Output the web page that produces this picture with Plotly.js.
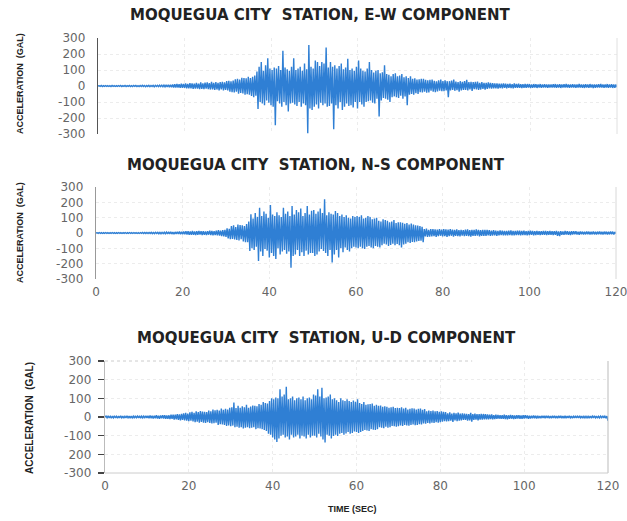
<!DOCTYPE html>
<html>
<head>
<meta charset="utf-8">
<script src="https://cdn.plot.ly/plotly-3.0.1.min.js"></script>
<style>html,body{margin:0;padding:0;background:#fff;}#chart{width:627px;height:521px;}</style>
</head>
<body>
<div id="chart"></div>
<script>
// sampling interval of the hand-read traces (seconds)
const DT = 0.25;

const panelTitles = [
  "MOQUEGUA CITY  STATION, E-W COMPONENT",
  "MOQUEGUA CITY  STATION, N-S COMPONENT",
  "MOQUEGUA CITY  STATION, U-D COMPONENT"
];
const yTitle = "ACCELERATION  (GAL)";
const xTitle = "TIME (SEC)";

const yTickVals = [300, 200, 100, 0, -100, -200, -300];
const yTickText = ["300", "200", "100", "0", "-100", "-200", "-300"];
const yTickText3 = ["300", "200", "100", "0", "-100", "200", "-300"];
const xTickVals = [0, 20, 40, 60, 80, 100, 120];
const xTickText = ["0", "20", "40", "60", "80", "100", "120"];

// E-W component, acceleration (gal), every 0.25 s from 0 to 120 s (one row = 5 s)
const ewAccel = [
  0, 2, -2, 3, -3, 2, -2, 3, -2, 2, -3, 2, -3, 3, -2, 2, -3, 2, -2, 3,
  -2, 3, -3, 2, -2, 3, -3, 2, -2, 4, -3, 2, -3, 3, -2, 3, -3, 2, -3, 3,
  -3, 4, -3, 3, -4, 3, -3, 4, -4, 3, -3, 4, -5, 4, -3, 4, -4, 5, -4, 5,
  -5, 6, -5, 7, -6, 8, -7, 8, -8, 10, -9, 11, -10, 12, -9, 11, -12, 14, -11, 13,
  -12, 16, -14, 13, -15, 18, -14, 16, -18, 15, -16, 20, -17, 15, -19, 22, -18, 16, -20, 21,
  -17, 22, -20, 18, -22, 26, -21, 19, -24, 25, -22, 20, -27, 24, -21, 26, -28, 23, -25, 30,
  -28, 32, -35, 30, -38, 34, -40, 42, -36, 45, -48, 40, -44, 52, -46, 50, -55, 48, -52, 58,
  -55, 50, -62, 58, -70, 65, -60, 90, -144, 120, -100, 150, -110, 95, -120, 130, -90, 173, -105, 110,
  -120, 100, -130, 115, -245, 110, -95, 125, -110, 100, -130, 220, -100, 115, -120, 105, -160, 95, -110, 120,
  -105, 173, -115, 100, -125, 110, -100, 120, -130, 95, -110, 140, -120, 105, -296, 256, -140, 120, -150, 110,
  -130, 160, -115, 150, -140, 125, -105, 150, -120, 140, -110, 240, -130, 115, -125, 150, -110, 120, -270, 130,
  -120, 110, -140, 125, -100, 140, -150, 105, -130, 115, -110, 170, -125, 100, -120, 110, -135, 95, -100, 120,
  -140, 160, -100, 110, -115, 95, -130, 90, -100, 110, -95, 150, -90, 100, -105, 85, -110, 95, -80, 100,
  -190, 80, -90, 85, -75, 130, -80, 75, -85, 70, -100, 60, -70, 75, -65, 80, -70, 60, -75, 65,
  -60, 75, -80, 55, -65, 60, -120, 50, -55, 60, -50, 45, -55, 48, -45, 40, -50, 42, -38, 45,
  -40, 45, -35, 38, -42, 35, -40, 38, -30, 40, -35, 32, -38, 30, -34, 36, -30, 40, -32, 30,
  -32, 35, -28, 30, -70, 30, -28, 34, -25, 40, -30, 28, -26, 25, -35, 30, -28, 26, -25, 30,
  -25, 38, -28, 24, -22, 26, -30, 24, -20, 26, -22, 28, -24, 20, -22, 24, -18, 20, -22, 19,
  -18, 22, -15, 20, -16, 18, -14, 17, -15, 16, -16, 14, -13, 15, -14, 16, -12, 14, -15, 13,
  -12, 15, -13, 12, -14, 16, -12, 13, -11, 14, -12, 12, -13, 11, -12, 13, -11, 12, -10, 12,
  -12, 10, -11, 12, -10, 11, -12, 9, -10, 12, -11, 10, -9, 11, -10, 9, -11, 10, -9, 10,
  -10, 11, -9, 12, -11, 9, -10, 11, -12, 10, -9, 11, -10, 12, -9, 10, -11, 9, -10, 11,
  -10, 9, -11, 10, -9, 12, -10, 9, -11, 10, -12, 11, -9, 10, -11, 12, -10, 9, -12, 10,
  -11, 10, -9, 11, -10, 12, -9, 10, -11, 9, -10, 12, -11, 10, -9, 11, -12, 10, -11, 9,
  -8
];

// N-S component
const nsAccel = [
  0, 2, -2, 3, -2, 2, -3, 2, -2, 3, -2, 2, -3, 2, -2, 3, -2, 2, -3, 2,
  -2, 3, -2, 2, -3, 2, -2, 3, -3, 2, -2, 3, -2, 2, -3, 3, -2, 2, -3, 2,
  -3, 3, -2, 4, -3, 3, -4, 3, -3, 4, -3, 4, -4, 3, -4, 5, -3, 4, -5, 4,
  -5, 4, -4, 5, -5, 6, -6, 7, -6, 8, -7, 6, -8, 7, -6, 8, -7, 9, -8, 8,
  -8, 10, -9, 12, -10, 11, -12, 10, -11, 13, -12, 10, -14, 12, -11, 13, -10, 12, -13, 11,
  -12, 10, -14, 12, -11, 15, -13, 14, -16, 12, -14, 16, -15, 18, -17, 15, -20, 18, -22, 20,
  -25, 30, -35, 28, -40, 45, -38, 50, -42, 38, -45, 55, -48, 52, -40, 50, -55, 45, -60, 58,
  -60, 75, -117, 122, -100, 95, -110, 130, -90, 105, -183, 165, -120, 110, -150, 140, -105, 125, -115, 100,
  -160, 183, -130, 120, -150, 110, -170, 135, -100, 115, -140, 105, -120, 165, -110, 125, -135, 140, -120, 110,
  -226, 176, -150, 120, -140, 150, -110, 135, -150, 160, -125, 110, -150, 130, -115, 176, -140, 120, -130, 145,
  -130, 150, -150, 125, -140, 140, -120, 160, -105, 130, -117, 220, -130, 115, -150, 135, -110, 125, -193, 120,
  -140, 143, -110, 130, -160, 110, -100, 120, -125, 105, -95, 115, -110, 100, -120, 95, -100, 110, -90, 105,
  -95, 110, -100, 105, -90, 115, -100, 95, -105, 100, -90, 110, -85, 105, -95, 90, -100, 95, -85, 100,
  -90, 80, -95, 75, -80, 90, -70, 85, -75, 80, -85, 70, -78, 75, -70, 85, -80, 65, -72, 70,
  -80, 70, -95, 67, -75, 60, -70, 65, -60, 55, -65, 62, -58, 55, -60, 50, -55, 48, -52, 45,
  -50, 40, -60, 25, -22, 28, -25, 20, -24, 26, -22, 25, -20, 24, -26, 22, -20, 25, -18, 22,
  -22, 25, -20, 24, -26, 22, -20, 25, -18, 22, -24, 20, -18, 23, -20, 18, -22, 20, -17, 19,
  -20, 22, -18, 24, -21, 19, -23, 20, -18, 21, -19, 23, -17, 20, -22, 18, -19, 21, -18, 20,
  -18, 20, -16, 18, -19, 15, -17, 18, -15, 16, -18, 14, -16, 17, -14, 15, -16, 13, -15, 14,
  -16, 15, -14, 17, -15, 14, -16, 13, -14, 15, -13, 16, -15, 14, -13, 15, -14, 12, -15, 14,
  -13, 15, -12, 14, -15, 12, -13, 14, -12, 11, -14, 12, -11, 13, -12, 14, -13, 12, -11, 13,
  -12, 11, -14, 12, -11, 13, -18, 10, -20, 12, -11, 10, -12, 13, -10, 12, -11, 10, -13, 11,
  -10, 12, -9, 11, -10, 9, -11, 10, -8, 9, -10, 8, -9, 10, -8, 9, -10, 8, -9, 10,
  -9, 8, -10, 9, -8, 10, -9, 8, -10, 9, -8, 9, -10, 8, -9, 10, -8, 9, -10, 7,
  -5
];

// U-D component
const udAccel = [
  0, 5, -4, 6, -5, 4, -6, 5, -4, 6, -5, 4, -6, 5, -5, 6, -4, 5, -6, 4,
  -5, 6, -4, 5, -6, 5, -5, 4, -6, 6, -4, 5, -5, 6, -6, 4, -5, 5, -4, 6,
  -5, 6, -7, 8, -6, 7, -8, 6, -7, 9, -8, 7, -9, 8, -7, 9, -8, 10, -9, 8,
  -10, 9, -11, 12, -10, 12, -14, 13, -12, 15, -16, 14, -18, 17, -16, 20, -18, 22, -20, 18,
  -22, 25, -20, 28, -24, 22, -28, 30, -25, 27, -30, 32, -26, 29, -30, 28, -32, 26, -28, 35,
  -32, 30, -35, 40, -33, 36, -30, 38, -42, 35, -38, 45, -40, 38, -42, 44, -48, 40, -45, 50,
  -50, 52, -46, 77, -55, 48, -52, 60, -57, 50, -55, 58, -62, 52, -58, 65, -55, 50, -60, 56,
  -58, 62, -55, 60, -65, 58, -60, 70, -62, 66, -65, 80, -70, 75, -75, 72, -90, 85, -95, 100,
  -110, 95, -120, 105, -134, 100, -115, 148, -100, 110, -95, 120, -110, 162, -105, 95, -120, 100, -95, 110,
  -110, 90, -105, 100, -95, 105, -115, 95, -100, 110, -105, 90, -115, 100, -95, 105, -110, 95, -100, 120,
  -100, 115, -110, 148, -90, 110, -105, 157, -120, 100, -137, 105, -95, 110, -100, 121, -115, 95, -102, 100,
  -95, 90, -102, 80, -90, 100, -85, 90, -95, 85, -88, 95, -80, 85, -90, 80, -85, 88, -78, 82,
  -80, 95, -85, 75, -80, 70, -75, 80, -70, 65, -72, 68, -75, 70, -65, 72, -68, 60, -70, 65,
  -65, 60, -55, 62, -58, 55, -60, 58, -52, 55, -58, 50, -55, 52, -48, 55, -50, 48, -52, 50,
  -50, 48, -45, 52, -48, 45, -42, 50, -45, 40, -46, 44, -42, 46, -40, 45, -44, 40, -42, 44,
  -38, 45, -40, 38, -35, 42, -36, 30, -32, 35, -34, 32, -30, 34, -32, 30, -28, 32, -30, 28,
  -28, 30, -25, 28, -22, 26, -24, 20, -22, 25, -20, 18, -26, 22, -18, 20, -22, 24, -20, 18,
  -18, 20, -16, 18, -15, 17, -20, 16, -18, 22, -25, 15, -16, 18, -14, 16, -18, 15, -14, 17,
  -14, 16, -12, 15, -13, 14, -12, 13, -11, 14, -12, 10, -11, 12, -10, 11, -9, 10, -10, 9,
  -10, 12, -11, 10, -12, 9, -10, 11, -9, 10, -11, 8, -10, 9, -8, 10, -9, 8, -10, 9,
  -8, 9, -7, 8, -9, 7, -8, 6, -7, 8, -6, 7, -8, 6, -7, 5, -6, 7, -5, 6,
  -6, 7, -5, 6, -7, 5, -6, 6, -5, 7, -6, 5, -7, 6, -5, 6, -6, 5, -7, 6,
  -6, 5, -5, 6, -4, 5, -6, 4, -5, 6, -5, 4, -5, 6, -4, 5, -6, 4, -5, 4,
  -5, 4, -6, 5, -4, 5, -5, 6, -4, 5, -6, 4, -5, 5, -4, 6, -5, 4, -6, 5,
  -20
];

const W = 627, H = 521;
const px = v => v / W;
const py = v => 1 - v / H;

const lineColor = '#2f7fd4';
const tickFont = {family: 'DejaVu Sans', size: 12, color: '#666'};

function trace(y, xa, ya) {
  return {y: y, x0: 0, dx: DT, xaxis: xa, yaxis: ya, type: 'scatter', mode: 'lines',
          line: {color: lineColor, width: 1.4}, hoverinfo: 'skip', showlegend: false};
}

const data = [
  trace(ewAccel, 'x', 'y'),
  trace(nsAccel, 'x2', 'y2'),
  trace(udAccel, 'x3', 'y3')
];

function xaxisDef(dom, anchor, showLabels) {
  return {domain: dom, anchor: anchor, range: [0, 120], tickvals: xTickVals, ticktext: xTickText,
          showticklabels: showLabels, ticks: '', showgrid: true, gridcolor: '#ececec', griddash: 'dot',
          zeroline: false, showline: false, tickfont: tickFont, ticklabelstandoff: 4,
          ticklabeloverflow: 'allow', fixedrange: true};
}
function yaxisDef(dom, anchor, texts, lc) {
  return {domain: dom, anchor: anchor, range: [-300, 300], tickvals: yTickVals, ticktext: texts,
          showgrid: true, gridcolor: '#ececec', griddash: 'dot', zeroline: false,
          showline: true, linecolor: lc, linewidth: 1.3, ticks: '', tickfont: tickFont,
          ticklabelstandoff: 9, fixedrange: true};
}

const titleFont = {family: 'DejaVu Sans', size: 15, color: '#222'};
const axTitleFont = {family: 'Liberation Sans Narrow, Liberation Sans', size: 9, color: '#222'};

const layout = {
  width: W, height: H,
  margin: {l: 0, r: 0, t: 0, b: 0},
  paper_bgcolor: '#fff', plot_bgcolor: '#fff',
  showlegend: false,
  xaxis:  xaxisDef([px(98), px(617)], 'y', false),
  yaxis:  yaxisDef([py(134), py(38)], 'x', yTickText, '#555'),
  xaxis2: xaxisDef([px(96), px(616)], 'y2', true),
  yaxis2: yaxisDef([py(279), py(187)], 'x2', yTickText, '#999'),
  xaxis3: xaxisDef([px(105), px(608)], 'y3', true),
  yaxis3: Object.assign(yaxisDef([py(473), py(361)], 'x3', yTickText3, '#bbb'),
                        {ticks: 'outside', ticklen: 6, tickcolor: '#444', tickwidth: 1.3, ticklabelstandoff: 4}),
  shapes: [
    {type: 'line', xref: 'x domain', yref: 'y domain', x0: 1, x1: 1, y0: 0, y1: 1, line: {color: '#e0e0e0', width: 1}},
    {type: 'line', xref: 'x2 domain', yref: 'y2 domain', x0: 1, x1: 1, y0: 0, y1: 1, line: {color: '#d8d8d8', width: 1}},
    {type: 'line', xref: 'x3 domain', yref: 'y3 domain', x0: 1, x1: 1, y0: 0, y1: 1, line: {color: '#bbb', width: 1}},
    {type: 'line', xref: 'x3 domain', yref: 'y3 domain', x0: 0, x1: 1, y0: 0, y1: 0, line: {color: '#ccc', width: 1}},
    {type: 'line', xref: 'x3 domain', yref: 'y3 domain', x0: 0, x1: 0.73, y0: 1, y1: 1, line: {color: '#ccc', width: 1, dash: 'dot'}}
  ],
  annotations: [
    {text: '<b>' + panelTitles[0] + '</b>', xref: 'paper', yref: 'paper', x: px(320), y: py(15), showarrow: false,
     font: titleFont, xanchor: 'center', yanchor: 'middle'},
    {text: '<b>' + panelTitles[1] + '</b>', xref: 'paper', yref: 'paper', x: px(316), y: py(165), showarrow: false,
     font: titleFont, xanchor: 'center', yanchor: 'middle'},
    {text: '<b>' + panelTitles[2] + '</b>', xref: 'paper', yref: 'paper', x: px(326), y: py(338), showarrow: false,
     font: titleFont, xanchor: 'center', yanchor: 'middle'},
    {text: '<b>' + yTitle + '</b>', xref: 'paper', yref: 'paper', x: px(20), y: py(84), showarrow: false, textangle: -90,
     font: axTitleFont, xanchor: 'center', yanchor: 'middle'},
    {text: '<b>' + yTitle + '</b>', xref: 'paper', yref: 'paper', x: px(20), y: py(233), showarrow: false, textangle: -90,
     font: axTitleFont, xanchor: 'center', yanchor: 'middle'},
    {text: '<b>' + yTitle + '</b>', xref: 'paper', yref: 'paper', x: px(29), y: py(418), showarrow: false, textangle: -90,
     font: Object.assign({}, axTitleFont, {size: 10}), xanchor: 'center', yanchor: 'middle'},
    {text: '<b>' + xTitle + '</b>', xref: 'paper', yref: 'paper', x: px(352), y: py(509), showarrow: false,
     font: axTitleFont, xanchor: 'center', yanchor: 'middle'}
  ]
};

Plotly.newPlot('chart', data, layout, {staticPlot: true, displayModeBar: false});
</script>
</body>
</html>
